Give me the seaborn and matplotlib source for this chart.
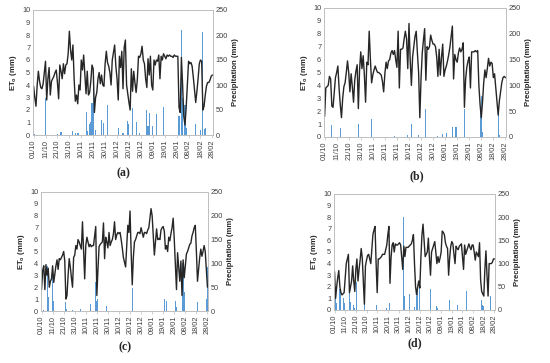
import numpy as np
import pandas as pd
import matplotlib
matplotlib.use("Agg")
import matplotlib.pyplot as plt
import seaborn as sns

# ---------------- data ----------------
date_labels = ["01/10", "11/10", "21/10", "31/10", "10/11", "20/11", "30/11", "10/12",
               "20/12", "30/12", "09/01", "19/01", "29/01", "08/02", "18/02", "28/02"]
panel_labels = ["(a)", "(b)", "(c)", "(d)"]

et0_a = [3.9, 3.0, 2.3, 4.0, 5.1, 4.3, 3.8, 3.7, 4.1, 5.0, 5.9, 2.8, 4.5, 5.4, 3.2, 4.3, 4.5, 4.7, 5.0, 5.2,
         4.2, 2.9, 5.6, 5.1, 4.5, 5.7, 4.9, 5.6, 5.7, 6.5, 8.3, 6.8, 6.0, 7.2, 4.5, 2.7, 3.2, 2.5, 4.0, 3.6,
         6.0, 5.2, 6.4, 4.8, 3.3, 5.1, 3.2, 3.4, 4.3, 5.6, 5.3, 1.8, 3.0, 3.4, 4.5, 5.0, 4.1, 4.8, 4.0, 3.9,
         5.7, 6.7, 5.8, 5.5, 5.0, 4.0, 6.0, 6.6, 7.2, 5.5, 4.5, 2.8, 6.3, 5.4, 6.7, 3.7, 7.0, 7.6, 4.0, 3.3,
         2.6, 2.0, 5.3, 3.5, 5.1, 4.2, 3.4, 4.4, 6.3, 6.2, 6.5, 7.1, 6.0, 5.7, 4.5, 3.8, 6.1, 4.8, 6.3, 4.0,
         3.6, 6.0, 5.6, 6.0, 5.9, 6.4, 4.5, 6.3, 6.0, 6.5, 6.3, 6.1, 6.4, 6.3, 6.4, 6.3, 6.3, 6.2, 6.4, 6.3,
         6.3, 6.3, 2.2, 1.8, 6.2, 4.0, 1.5, 0.8, 2.2, 4.0, 5.9, 5.7, 5.8, 5.5, 4.6, 3.6, 2.6, 3.5, 4.5, 5.7,
         6.0, 5.9, 2.0, 2.3, 3.2, 3.9, 4.2, 4.2, 4.4, 4.7, 4.8]
rain_days_a = [1, 10, 20, 23, 33, 35, 37, 38, 44, 45, 47, 48, 49, 50, 52, 57, 59, 62, 71, 75, 79, 80, 83,
               86, 89, 95, 96, 97, 100, 103, 109, 122, 124, 125, 127, 128, 136, 140, 142, 143, 144]
rain_mm_a = [2, 75, 3, 7, 8, 5, 4, 5, 47, 8, 22, 27, 65, 95, 10, 30, 25, 60, 15, 4, 28, 22, 55,
             27, 5, 50, 18, 44, 18, 42, 57, 38, 210, 75, 60, 15, 22, 10, 207, 12, 14]

et0_b = [1.6, 3.8, 3.9, 4.0, 4.7, 4.5, 2.4, 2.3, 3.5, 4.6, 5.0, 5.5, 3.8, 2.5, 1.5, 3.0, 3.9, 4.2, 5.0, 5.9,
         5.0, 3.5, 4.9, 3.9, 2.7, 4.4, 5.1, 5.6, 2.2, 5.2, 6.6, 5.3, 6.3, 4.8, 2.7, 5.8, 5.6, 8.2, 6.0, 4.2,
         4.8, 5.2, 5.5, 5.2, 5.0, 5.0, 4.9, 4.8, 4.3, 3.5, 4.9, 5.8, 5.3, 5.9, 6.0, 6.5, 6.7, 6.4, 6.7, 6.0,
         5.4, 8.2, 3.8, 6.8, 6.8, 6.9, 7.6, 8.2, 7.6, 5.3, 8.8, 6.0, 4.0, 6.2, 7.0, 7.8, 8.2, 6.5, 5.0, 1.5,
         4.5, 6.5, 7.5, 8.4, 4.4, 7.0, 6.8, 7.0, 7.9, 7.5, 7.2, 7.2, 7.0, 6.2, 4.7, 6.8, 4.8, 6.2, 7.2, 4.7,
         5.2, 5.5, 5.9, 6.4, 7.0, 7.8, 8.6, 4.5, 6.4, 6.0, 5.8, 6.5, 6.9, 6.6, 6.8, 7.3, 2.3, 4.5, 5.4, 5.9,
         6.2, 3.8, 6.6, 6.6, 6.6, 6.7, 6.6, 6.7, 4.0, 2.5, 1.5, 2.7, 4.2, 5.2, 4.6, 5.3, 6.1, 5.5, 5.8, 5.7,
         4.6, 4.9, 3.8, 2.6, 1.7, 2.8, 3.5, 4.2, 4.6, 4.7, 4.6]
rain_days_b = [6, 13, 28, 39, 58, 69, 72, 78, 84, 94, 98, 101, 106, 109, 116, 129, 130, 131, 144, 145]
rain_mm_b = [23, 17, 25, 35, 1, 3, 25, 4, 55, 1, 5, 7, 19, 20, 55, 55, 80, 10, 45, 3]

et0_c = [1.8, 3.4, 3.8, 1.8, 3.9, 3.0, 3.6, 2.0, 2.5, 2.7, 3.8, 2.4, 3.1, 3.8, 4.3, 3.5, 4.4, 4.3, 4.5, 4.7,
         5.0, 4.2, 1.0, 1.3, 3.0, 4.4, 3.7, 2.8, 2.0, 4.5, 4.7, 5.5, 5.2, 6.0, 5.8, 5.5, 5.2, 7.5, 5.0, 2.7,
         5.5, 6.2, 5.8, 5.4, 5.6, 5.4, 5.5, 5.5, 6.3, 7.1, 1.3, 3.5, 5.4, 5.6, 5.7, 5.8, 7.4, 4.4, 6.2, 5.8,
         5.3, 6.6, 5.5, 5.8, 6.0, 6.5, 7.5, 6.0, 6.4, 6.6, 6.5, 6.6, 6.0, 5.3, 4.5, 4.1, 3.7, 5.5, 7.2, 6.6,
         8.4, 5.0, 2.2, 4.5, 5.8, 6.0, 6.3, 6.6, 6.6, 6.5, 7.0, 6.6, 6.2, 6.6, 6.6, 6.5, 6.8, 7.0, 7.8, 8.6,
         8.0, 6.3, 4.7, 5.8, 6.9, 6.0, 6.1, 6.0, 6.8, 7.0, 7.1, 6.7, 5.2, 5.5, 5.0, 6.2, 5.9, 6.5, 7.0, 7.8,
         6.0, 3.9, 1.8, 4.9, 3.7, 2.5, 4.2, 1.3, 4.3, 2.8, 3.8, 4.8, 5.0, 5.3, 5.6, 5.7, 6.3, 6.6, 7.0, 7.2,
         5.0, 2.5, 3.5, 4.5, 5.2, 4.6, 5.0, 5.5, 5.0, 3.5, 2.0]
rain_days_c = [2, 5, 6, 10, 11, 22, 23, 28, 35, 44, 49, 50, 51, 59, 82, 111, 113, 121, 122, 127, 128,
               129, 141, 149, 150]
rain_mm_c = [3, 95, 30, 95, 20, 18, 5, 2, 5, 15, 60, 20, 25, 10, 48, 25, 20, 22, 8, 100, 80,
             40, 18, 25, 92]

et0_d = [3.3, 1.0, 2.0, 2.8, 3.4, 2.0, 1.5, 1.3, 1.4, 1.5, 2.7, 4.0, 4.4, 4.8, 1.5, 2.0, 2.5, 3.8, 2.5, 1.6,
         3.5, 4.4, 2.5, 3.5, 4.3, 5.3, 4.5, 2.5, 0.5, 3.8, 4.3, 4.7, 4.8, 4.4, 4.0, 5.3, 6.5, 6.9, 7.2, 4.0,
         1.5, 4.4, 4.4, 4.5, 4.6, 4.8, 4.8, 4.8, 5.2, 5.6, 6.5, 7.2, 2.3, 4.5, 5.6, 5.8, 5.0, 5.7, 5.6, 5.6,
         5.7, 5.8, 5.6, 4.5, 3.5, 5.5, 4.6, 5.4, 5.4, 5.4, 5.5, 5.6, 5.7, 6.0, 6.5, 4.0, 2.0, 1.3, 2.0, 2.5,
         1.9, 4.5, 6.5, 7.4, 6.0, 4.6, 4.8, 5.0, 6.2, 4.5, 3.0, 5.0, 5.3, 5.6, 5.9, 5.0, 4.0, 4.6, 4.1, 4.5,
         5.0, 6.8, 6.7, 6.5, 5.8, 5.5, 5.3, 3.0, 4.5, 5.5, 5.9, 5.7, 4.8, 4.0, 5.5, 5.3, 5.2, 5.5, 5.6, 5.7,
         4.6, 3.5, 5.6, 4.8, 5.1, 5.4, 5.7, 5.4, 5.2, 5.6, 5.6, 5.0, 4.3, 5.0, 4.8, 4.6, 5.8, 2.6, 1.6, 1.4,
         1.2, 3.5, 5.1, 3.0, 1.2, 4.0, 4.0, 4.0, 4.1, 4.4, 4.4]
rain_days_d = [1, 2, 5, 6, 7, 8, 9, 14, 15, 18, 19, 21, 28, 39, 49, 52, 65, 66, 70, 75, 77, 78, 80, 90,
               96, 97, 108, 115, 124, 138, 139, 140, 146]
rain_mm_d = [30, 15, 45, 40, 30, 25, 15, 45, 18, 10, 5, 60, 30, 10, 5, 15, 200, 30, 35, 7, 30, 50, 48, 45,
             8, 5, 22, 10, 40, 22, 10, 8, 30]

panels = [
    (et0_a, rain_days_a, rain_mm_a),
    (et0_b, rain_days_b, rain_mm_b),
    (et0_c, rain_days_c, rain_mm_c),
    (et0_d, rain_days_d, rain_mm_d),
]

# ---------------- style ----------------
sns.set_theme(style="white")
plt.rcParams["font.family"] = ["Liberation Sans", "DejaVu Sans"]

W, H = 550, 363
fig = plt.figure(figsize=(W / 100, H / 100), dpi=100)

# axes boxes in pixels: left, top, right, bottom
boxes = [(33, 10, 213, 135), (324, 8, 506, 137), (41, 192, 208, 311), (334, 194, 495, 310)]
label_pos = [(123, 173), (417, 176), (125, 347), (415, 343)]

line_color = "#262626"
bar_color = "#5b9bd5"
spine_color = "#bfbfbf"
tick_fs = 5.3

for (et0, rdays, rmm), (l, t, r, b), lab, (lx, ly) in zip(panels, boxes, panel_labels, label_pos):
    n = len(et0)
    days = np.arange(n)
    rain = np.zeros(n)
    rain[rdays] = rmm
    df = pd.DataFrame({"day": days, "et0": et0, "rain": rain})

    ax = fig.add_axes([l / W, 1 - b / H, (r - l) / W, (b - t) / H])
    ax2 = ax.twinx()
    sns.barplot(data=df, x="day", y="rain", native_scale=True, color=bar_color,
                width=0.9, errorbar=None, ax=ax2, saturation=1, linewidth=0)
    sns.lineplot(data=df, x="day", y="et0", color=line_color, lw=1.0, ax=ax)
    ax.set_zorder(ax2.get_zorder() + 1)
    ax.patch.set_visible(False)

    ax.set_xlim(-0.5, n - 0.5)
    ax2.set_xlim(-0.5, n - 0.5)
    ax.set_ylim(0, 10)
    ax2.set_ylim(0, 250)
    ax.set_yticks(np.arange(0, 11, 1))
    ax2.set_yticks(np.arange(0, 251, 50))
    ax.set_xticks(np.arange(0, n, 10))
    ax.set_xticklabels(date_labels, rotation=90, fontsize=tick_fs, color="#404040")
    ax.tick_params(axis="y", labelsize=tick_fs, colors="#404040", length=0, pad=2)
    ax2.tick_params(axis="y", labelsize=tick_fs, colors="#404040", length=0, pad=2)
    ax.tick_params(axis="x", length=2, width=0.5, color=spine_color, pad=1.5, bottom=True)
    ax.set_xlabel("")
    ax.set_ylabel("ET$_\\mathregular{o}$ (mm)", fontsize=5.6, fontweight="bold", labelpad=2)
    ax2.set_ylabel("Precipitation (mm)", fontsize=5.6, fontweight="bold", labelpad=3)
    for a in (ax, ax2):
        for s in a.spines.values():
            s.set_color(spine_color)
            s.set_linewidth(0.6)
    fig.text(lx / W, 1 - ly / H, lab, ha="center", va="center", fontsize=8.5,
             fontweight="bold", family=["Liberation Serif", "DejaVu Serif"])

fig.savefig("out.png", dpi=100)
